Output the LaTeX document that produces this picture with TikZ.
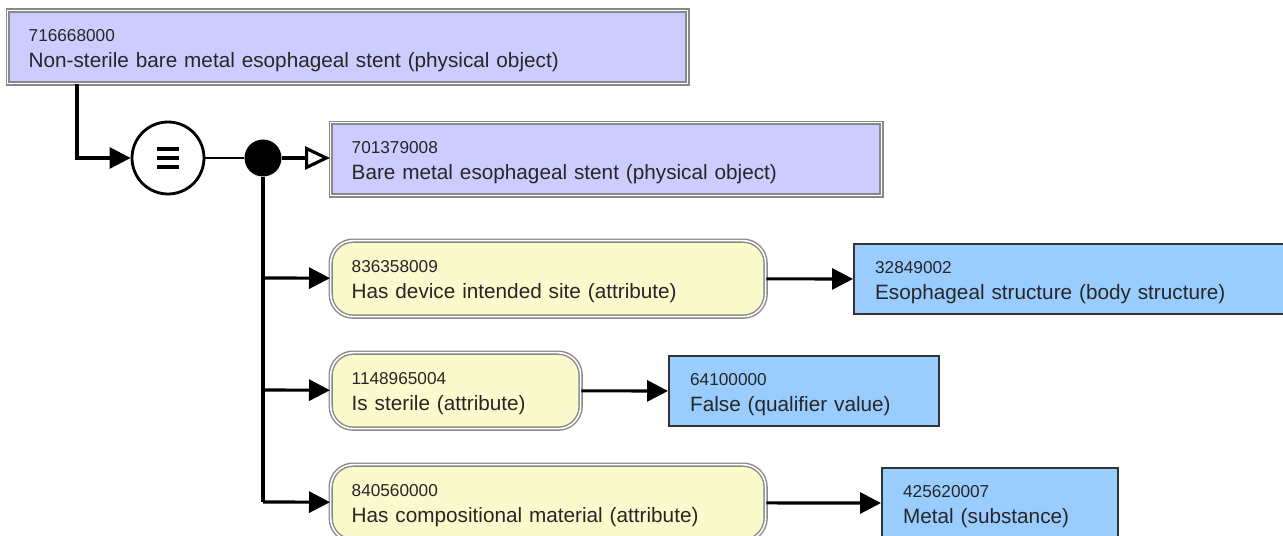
\documentclass[tikz,border=0pt]{standalone}
\usepackage{fontspec}
\setmainfont{Liberation Sans}
\usetikzlibrary{arrows.meta}

\definecolor{conceptfill}{RGB}{204,204,255}
\definecolor{attrfill}{RGB}{250,250,204}
\definecolor{valuefill}{RGB}{153,204,255}
\definecolor{framegray}{RGB}{136,136,136}

\newcommand{\sctid}[1]{{\fontsize{9.8}{12}\selectfont\rule{0pt}{10.5pt}#1}}

\tikzset{
  boxtext/.style={align=left, text=black!85, font=\fontsize{11.8}{15}\selectfont,
    inner xsep=0.42cm, anchor=north west},
  concept/.style={boxtext, draw=framegray, double=white, line width=0.8pt,
    double distance=0.9pt, fill=conceptfill, minimum height=1.46cm, text width=#1},
  attrbox/.style={boxtext, draw=framegray, double=white, line width=0.8pt,
    double distance=0.9pt, rounded corners=0.45cm, fill=attrfill,
    minimum height=1.52cm, text width=#1},
  valuebox/.style={boxtext, draw=black!80, line width=1.3pt, fill=valuefill,
    minimum height=1.4cm, text width=#1},
  conn/.style={line width=1.8pt},
  arr/.style={conn, -{Triangle[length=0.42cm, width=0.42cm]}},
}

\begin{document}
\begin{tikzpicture}[x=0.02cm,y=-0.02cm]
\useasboundingbox (0,0) rectangle (1283,536);

% Focus concept
\node[concept=12.76cm] (top) at (7,10)
  {\sctid{716668000}\\Non-sterile bare metal esophageal stent (physical object)};

% Definition status and conjunction
\node[circle, draw, fill=white, line width=1.6pt, minimum size=1.44cm] (eq) at (168,158) {};
\foreach \d in {-9,0,9}
  \draw[line width=2.2pt] ([shift={(-11,\d)}]eq.center) -- ++(22,0);
\node[circle, fill=black, inner sep=0pt, minimum size=0.74cm] (dot) at (263,158) {};

% Parent concept
\node[concept=10.18cm] (parent) at (330,122)
  {\sctid{701379008}\\Bare metal esophageal stent (physical object)};

% Attributes
\node[attrbox=7.86cm] (site) at (330,240)
  {\sctid{836358009}\\Has device intended site (attribute)};
\node[attrbox=4.16cm] (sterile) at (330,352)
  {\sctid{1148965004}\\Is sterile (attribute)};
\node[attrbox=7.86cm] (material) at (330,464)
  {\sctid{840560000}\\Has compositional material (attribute)};

% Values
\node[valuebox=7.9cm] (esoph) at (853,243)
  {\sctid{32849002}\\Esophageal structure (body structure)};
\node[valuebox=4.56cm] (false) at (668,355)
  {\sctid{64100000}\\False (qualifier value)};
\node[valuebox=3.88cm] (metal) at (881,467)
  {\sctid{425620007}\\Metal (substance)};

% Connectors
\draw[arr] ([xshift=1.4cm]top.south west) |- (eq);
\draw[line width=1pt] (eq) -- (dot);
\draw[conn, -{Triangle[open, length=0.5cm, width=0.46cm]}] (dot) -- (dot -| parent.west);

\coordinate (j1) at (263,278);
\coordinate (j2) at (263,390);
\coordinate (j3) at (263,502);
\draw[conn] (dot) -- (j3);
\draw[arr] (j1) -- (site);
\draw[arr] (j2) -- (sterile);
\draw[arr] (j3) -- (material);

\draw[arr] (site) -- (esoph);
\draw[arr] (sterile) -- (false);
\draw[arr] (material) -- (metal);
\end{tikzpicture}
\end{document}
